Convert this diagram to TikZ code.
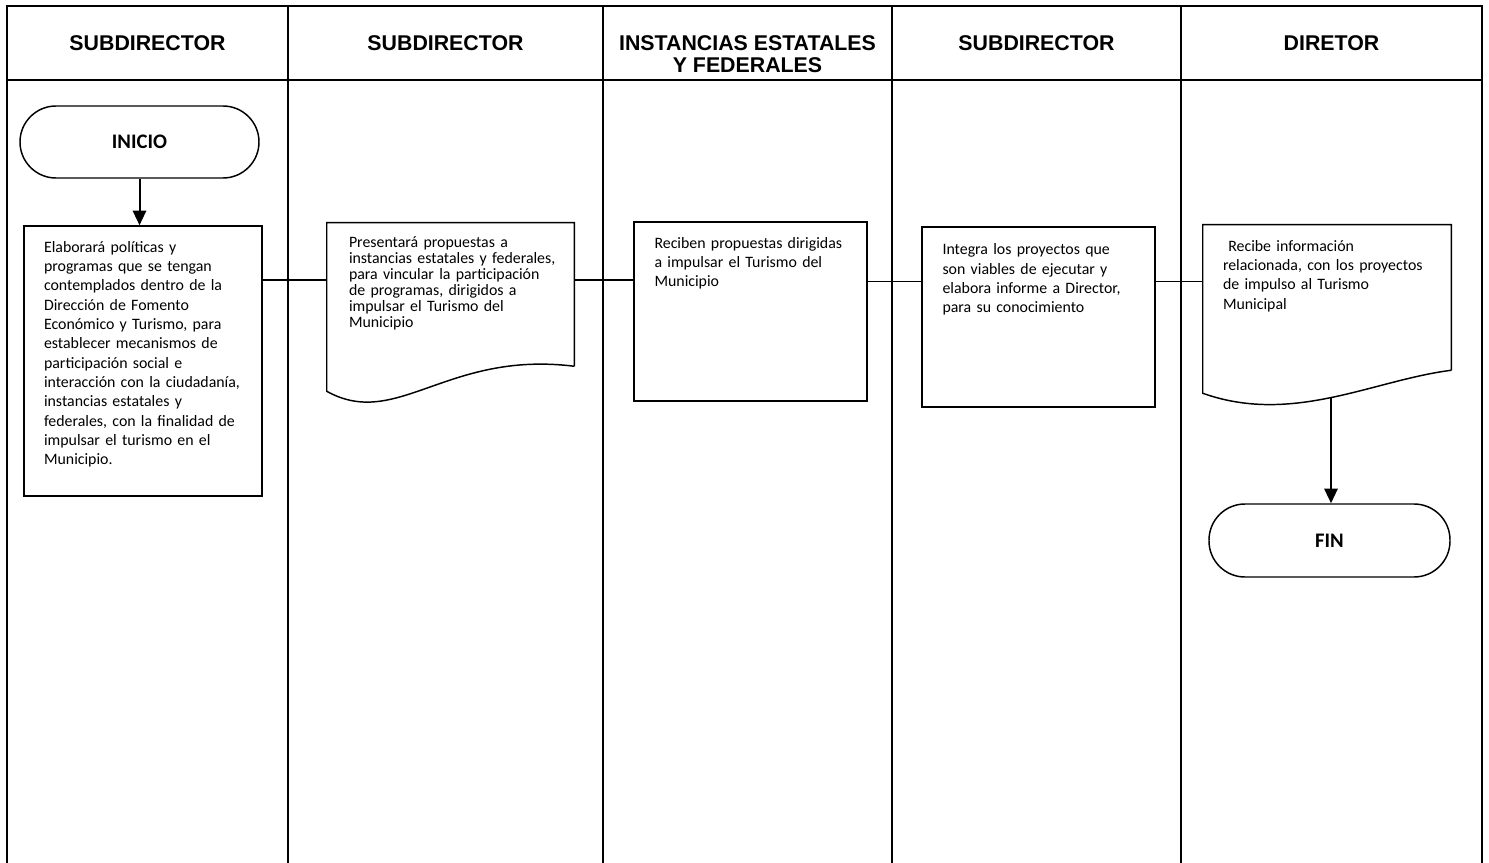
\documentclass[tikz,border=0pt]{standalone}
\usepackage{fontspec}
\setmainfont{Carlito}
\newfontfamily\hdrfont{Liberation Sans}
\usetikzlibrary{arrows.meta,calc}
\begin{document}
\begin{tikzpicture}[x=0.75pt,y=-0.75pt,
  lane/.style={line width=1.5pt},
  boxshape/.style={draw, line width=1.1pt, inner sep=0pt},
  docshape/.style={inner sep=0pt},
  docline/.style={line width=1.1pt, line join=miter},
  terminal/.style={draw, line width=1.1pt, rounded corners=27pt, inner sep=0pt, font=\bfseries\fontsize{15.5}{18}\selectfont},
  hdr/.style={font=\hdrfont\bfseries\fontsize{16}{16.5}\selectfont, align=center, inner sep=0pt},
  txt/.style={anchor=base west, inner sep=0pt, align=left, text width=240pt, font=\fontsize{11.9}{14.5}\selectfont},
  link/.style={line width=1.1pt},
  flow/.style={line width=1.5pt, -{Triangle[width=10pt,length=11pt]}},
]
\useasboundingbox (0,0) rectangle (1489,863);
\fill[white] (0,0) rectangle (1489,863);

% swimlane grid
\draw[lane] (7,863) -- (7,6) -- (1482,6) -- (1482,863);
\draw[lane] (7,80) -- (1482,80);
\foreach \x in {288,603,892,1181} \draw[lane] (\x,6) -- (\x,863);

% headers
\node[hdr] (h1) at (147.5,43) {SUBDIRECTOR};
\node[hdr] (h2) at (445.5,43) {SUBDIRECTOR};
\node[hdr] (h3) at (747.5,54) {INSTANCIAS ESTATALES\\Y FEDERALES};
\node[hdr] (h4) at (1036.5,43) {SUBDIRECTOR};
\node[hdr] (h5) at (1331.5,43) {DIRETOR};

% start
\node[terminal, minimum width=179.25pt, minimum height=54pt] (inicio) at (139.5,142) {INICIO};

% box 1
\node[boxshape, minimum width=178.5pt, minimum height=202.5pt] (box1) at (143,361) {};
\node[txt] (t1) at ($(box1.north west)+(20.5,27)$) {Elaborará políticas y\\programas que se tengan\\contemplados dentro de la\\Dirección de Fomento\\Económico y Turismo, para\\establecer mecanismos de\\participación social e\\interacción con la ciudadanía,\\instancias estatales y\\federales, con la finalidad de\\impulsar el turismo en el\\Municipio.};

% document 2
\node[docshape, minimum width=185.25pt, minimum height=107.25pt] (doc2) at (450.5,294.5) {};
\draw[docline] (doc2.south east) -- (doc2.north east) -- (doc2.north west) -- ($(doc2.south west)+(0,25)$)
  .. controls ($(doc2.south west)+(70,64)$) and ($(doc2.south west)+(120,-16)$) .. (doc2.south east);
\node[txt, font=\fontsize{11.9}{12}\selectfont] (t2) at ($(doc2.north west)+(22,24.5)$) {Presentará propuestas a\\instancias estatales y federales,\\para vincular la participación\\de programas, dirigidos a\\impulsar el Turismo del\\Municipio};

% box 3
\node[boxshape, minimum width=174.75pt, minimum height=134.25pt] (box3) at (750.5,311.5) {};
\node[txt] (t3) at ($(box3.north west)+(21,27)$) {Reciben propuestas dirigidas\\a impulsar el Turismo del\\Municipio};

% box 4
\node[boxshape, minimum width=174.75pt, minimum height=135pt] (box4) at (1038.5,317) {};
\node[txt] (t4) at ($(box4.north west)+(21,28.5)$) {Integra los proyectos que\\son viables de ejecutar y\\elabora informe a Director,\\para su conocimiento};

% document 5
\node[docshape, minimum width=186pt, minimum height=108.75pt] (doc5) at (1327,297.5) {};
\draw[docline] (doc5.south east) -- (doc5.north east) -- (doc5.north west) -- ($(doc5.south west)+(0,23)$)
  .. controls ($(doc5.south west)+(90,55)$) and ($(doc5.south west)+(170,10)$) .. (doc5.south east);
\node[txt] (t5) at ($(doc5.north west)+(20,26.5)$) {\ Recibe información\\relacionada, con los proyectos\\de impulso al Turismo\\Municipal};

% end
\node[terminal, minimum width=180.75pt, minimum height=54.75pt] (fin) at (1329.5,540.5) {FIN};

% connectors
\coordinate (r1) at (0,280);
\coordinate (r2) at (0,281.5);
\draw[link] (box1.east |- r1) -- (doc2.west |- r1);
\draw[link] (doc2.east |- r1) -- (box3.west |- r1);
\draw[link] (box3.east |- r2) -- (box4.west |- r2);
\draw[link] (box4.east |- r2) -- (doc5.west |- r2);
\draw[flow] (inicio.south) -- (inicio.south |- box1.north);
\coordinate (d5b) at (1331,396.5);
\draw[flow] (d5b) -- (d5b |- fin.north);
\end{tikzpicture}
\end{document}
